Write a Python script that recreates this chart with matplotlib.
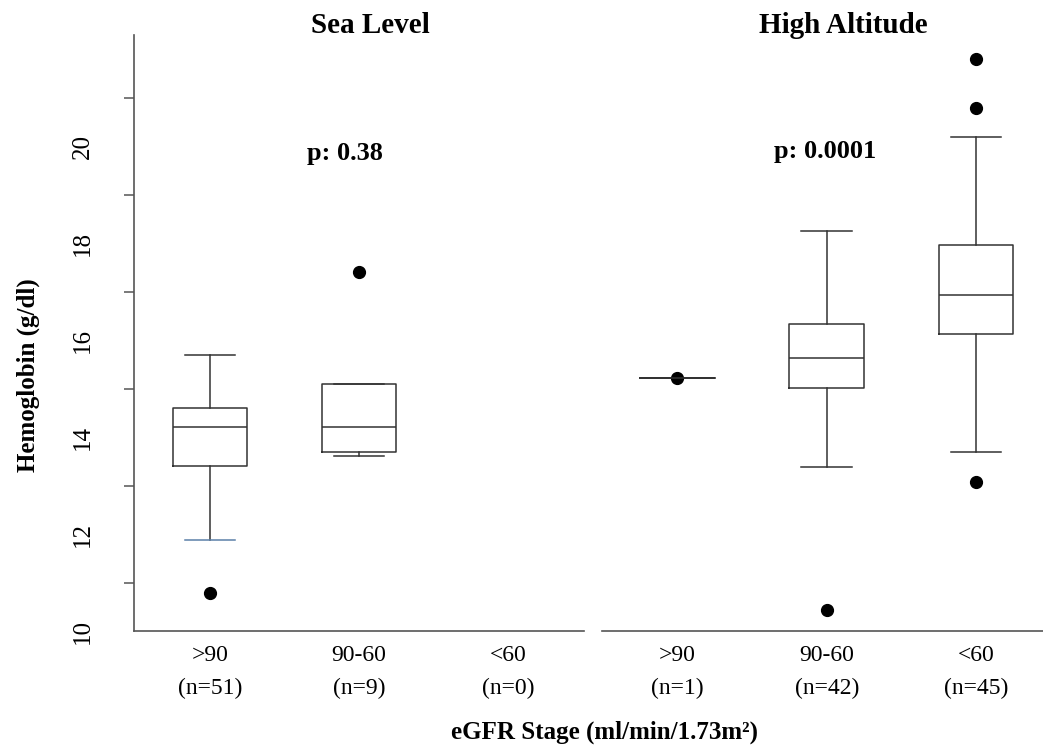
import matplotlib
matplotlib.use("Agg")
import matplotlib.pyplot as plt

plt.rcParams['font.family'] = ['Liberation Serif', 'DejaVu Serif']

# ---- data ----
panels = ["Sea Level", "High Altitude"]
categories = [">90", "90-60", "<60"]
p_values = ["p: 0.38", "p: 0.0001"]

sl_n = [51, 9, 0]
sl_med = [14.21, 14.21]
sl_q1 = [13.40, 13.69]
sl_q3 = [14.61, 15.10]
sl_whislo = [11.88, 13.62]
sl_whishi = [15.70, 15.10]
sl_fliers = [[10.78], [17.41]]

ha_n = [1, 42, 45]
ha_med = [15.30, 15.71, 17.01]
ha_q1 = [15.30, 15.10, 16.20]
ha_q3 = [15.30, 16.40, 18.01]
ha_whislo = [15.30, 13.50, 13.79]
ha_whishi = [15.30, 18.31, 20.22]
ha_fliers = [[15.30], [10.58], [21.81, 20.82, 13.18]]

ytick_vals = [10, 12, 14, 16, 18, 20]
yminor_vals = [11, 13, 15, 17, 19, 21]

LINE = "#333333"
SPINE = "#555555"


def make_stats(med, q1, q3, lo, hi, fl):
    return [dict(med=m, q1=a, q3=b, whislo=c, whishi=d, fliers=f)
            for m, a, b, c, d, f in zip(med, q1, q3, lo, hi, fl)]


fig = plt.figure(figsize=(10.43, 7.51), dpi=100)
ax1 = fig.add_axes([0.1282, 0.1594, 0.4317, 0.7940])
ax2 = fig.add_axes([0.5772, 0.1594, 0.4228, 0.7940])

lineprops = dict(color=LINE, linewidth=1.1)
flierprops = dict(marker='o', markerfacecolor='black', markeredgecolor='black',
                  markersize=8.5, linestyle='none')

sl_stats = make_stats(sl_med, sl_q1, sl_q3, sl_whislo, sl_whishi, sl_fliers)
ha_stats = make_stats(ha_med, ha_q1, ha_q3, ha_whislo, ha_whishi, ha_fliers)

r1 = ax1.bxp(sl_stats, positions=[1, 2], widths=0.5, capwidths=0.34,
             boxprops=lineprops, whiskerprops=lineprops, capprops=lineprops,
             medianprops=lineprops, flierprops=flierprops, showfliers=True)
# lower cap of first box appears blue in the reference
r1['caps'][0].set_color("#5b80a8")

r2 = ax2.bxp(ha_stats, positions=[1, 2, 3], widths=0.5, capwidths=0.34,
             boxprops=lineprops, whiskerprops=lineprops, capprops=lineprops,
             medianprops=lineprops, flierprops=flierprops, showfliers=True)

for ax, ns, xl in [(ax1, sl_n, (0.488, 3.51)), (ax2, ha_n, (0.496, 3.448))]:
    ax.set_xlim(*xl)
    ax.set_ylim(10.145, 22.30)
    ax.set_xticks([1, 2, 3])
    ax.set_xticklabels([f"{c}\n(n={n})" for c, n in zip(categories, ns)],
                       fontsize=17, linespacing=1.7)
    ax.tick_params(axis='x', length=0, pad=10)
    for s in ['top', 'right']:
        ax.spines[s].set_visible(False)
    ax.spines['bottom'].set_color(SPINE)
    ax.spines['bottom'].set_linewidth(1.2)

ax1.set_yticks(ytick_vals)
ax1.set_yticklabels([str(v) for v in ytick_vals], rotation=90, va='center', fontsize=18)
ax1.set_yticks(yminor_vals, minor=True)
ax1.tick_params(axis='y', which='major', length=0, pad=29)
ax1.tick_params(axis='y', which='minor', length=7, width=1.1, color=SPINE)
ax1.spines['left'].set_color(SPINE)
ax1.spines['left'].set_linewidth(1.2)

ax2.spines['left'].set_visible(False)
ax2.set_yticks([])

ax1.text(1.906, 19.86, p_values[0], ha='center', va='center', fontsize=19, fontweight='bold')
ax2.text(1.987, 19.92, p_values[1], ha='center', va='center', fontsize=19, fontweight='bold')

fig.text(0.3547, 0.9667, panels[0], ha='center', va='center', fontsize=21, fontweight='bold')
fig.text(0.8082, 0.9667, panels[1], ha='center', va='center', fontsize=21, fontweight='bold')

fig.text(0.58, 0.025, "eGFR Stage (ml/min/1.73m²)", ha='center', va='center',
         fontsize=18, fontweight='bold')
fig.text(0.0275, 0.5, "Hemoglobin (g/dl)", ha='center', va='center', rotation=90,
         fontsize=18, fontweight='bold')

fig.savefig("out.png", dpi=100)
